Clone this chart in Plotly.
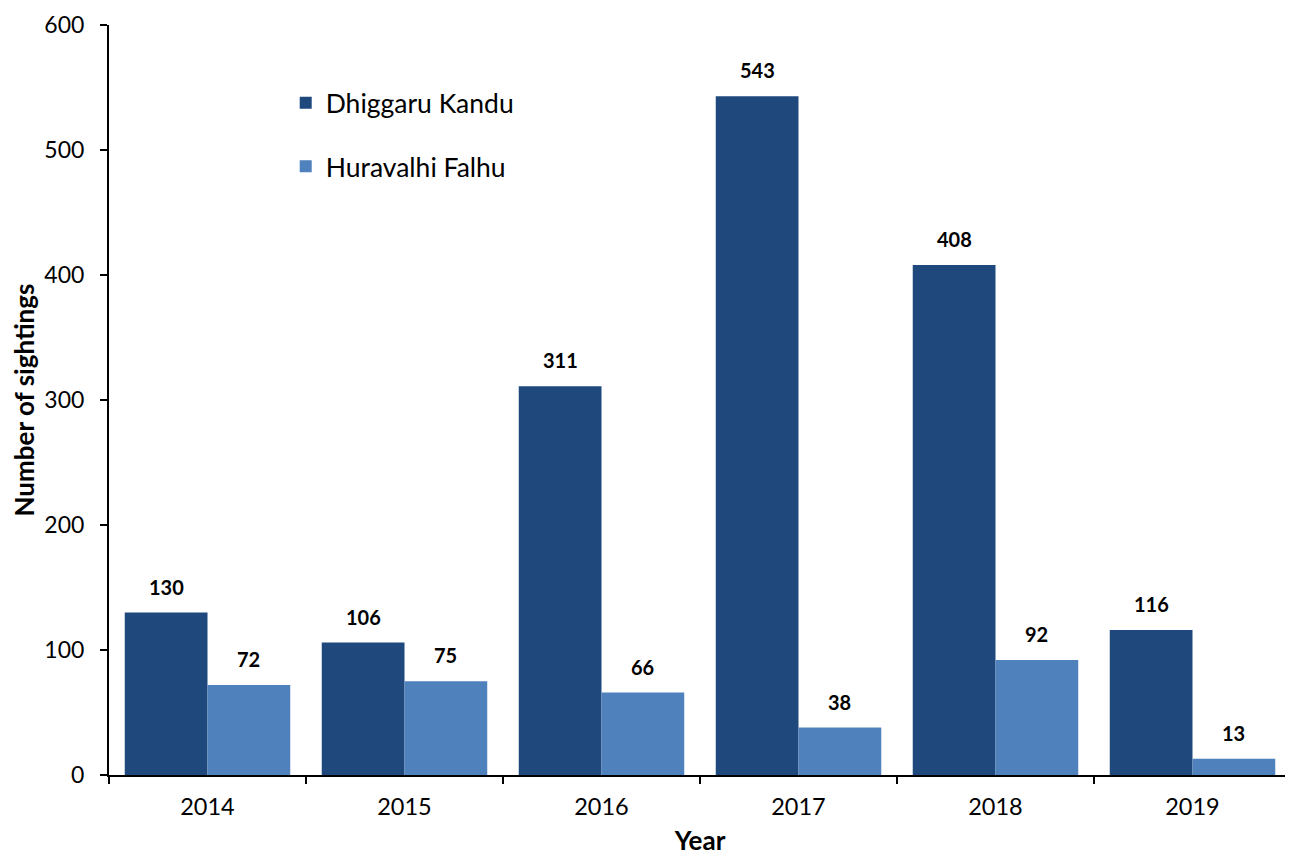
import plotly.graph_objects as go

years = ["2014", "2015", "2016", "2017", "2018", "2019"]
dhiggaru = [130, 106, 311, 543, 408, 116]
huravalhi = [72, 75, 66, 38, 92, 13]
series_names = ["Dhiggaru Kandu", "Huravalhi Falhu"]
colors = ["#1F497D", "#4F81BD"]
yticks = [0, 100, 200, 300, 400, 500, 600]

FONT = "Lato"
fig = go.Figure()
for name, vals, col in zip(series_names, [dhiggaru, huravalhi], colors):
    fig.add_trace(go.Bar(x=years, y=vals, name=name, marker=dict(color=col, line=dict(width=0)),
                         legendgroup=name))

W, H = 1285, 848
ml, mr, mt, mb = 99, 2, 14, 81
plot_w = W - ml - mr
bargap = 0.16
bar_px = plot_w / len(years) * (1 - bargap) / 2
annos = []
for vals, sh in [(dhiggaru, -bar_px / 2), (huravalhi, bar_px / 2)]:
    for i, v in enumerate(vals):
        annos.append(dict(x=i, y=v, text=str(v), showarrow=False, xshift=sh, yshift=12,
                          yanchor="bottom", font=dict(family=FONT, size=20, color="black", weight="bold")))

fig.update_layout(
    width=W, height=H,
    margin=dict(l=ml, r=mr, t=mt, b=mb),
    plot_bgcolor="white", paper_bgcolor="white",
    barmode="group", bargap=bargap, bargroupgap=0,
    font=dict(family=FONT, color="black"),
    annotations=annos,
    legend=dict(x=0.1495, y=0.928, xanchor="left", yanchor="top", bgcolor="rgba(0,0,0,0)",
                font=dict(family=FONT, size=26.5, color="black"), tracegroupgap=26,
                itemwidth=30),
    xaxis=dict(type="category", showline=True, linecolor="black", linewidth=2,
               ticks="outside", tickson="boundaries", ticklen=7, tickwidth=2, tickcolor="black",
               tickfont=dict(family=FONT, size=23.5), showgrid=False, tickangle=0,
               ticklabelstandoff=10, ticklabeloverflow="allow",
               range=[-0.5, len(years) - 0.5],
               title=dict(text="Year", font=dict(family=FONT, size=26, weight="bold"), standoff=16)),
    yaxis=dict(range=[0, 600], tickvals=yticks, showline=True, linecolor="black", linewidth=2,
               ticks="outside", ticklen=7, tickwidth=2, tickcolor="black",
               tickfont=dict(family=FONT, size=23), showgrid=False, zeroline=False,
               ticklabelstandoff=11, ticklabeloverflow="allow",
               title=dict(text="Number of sightings", font=dict(family=FONT, size=26, weight="bold"),
                          standoff=16)),
)
fig.write_html("out.html")
